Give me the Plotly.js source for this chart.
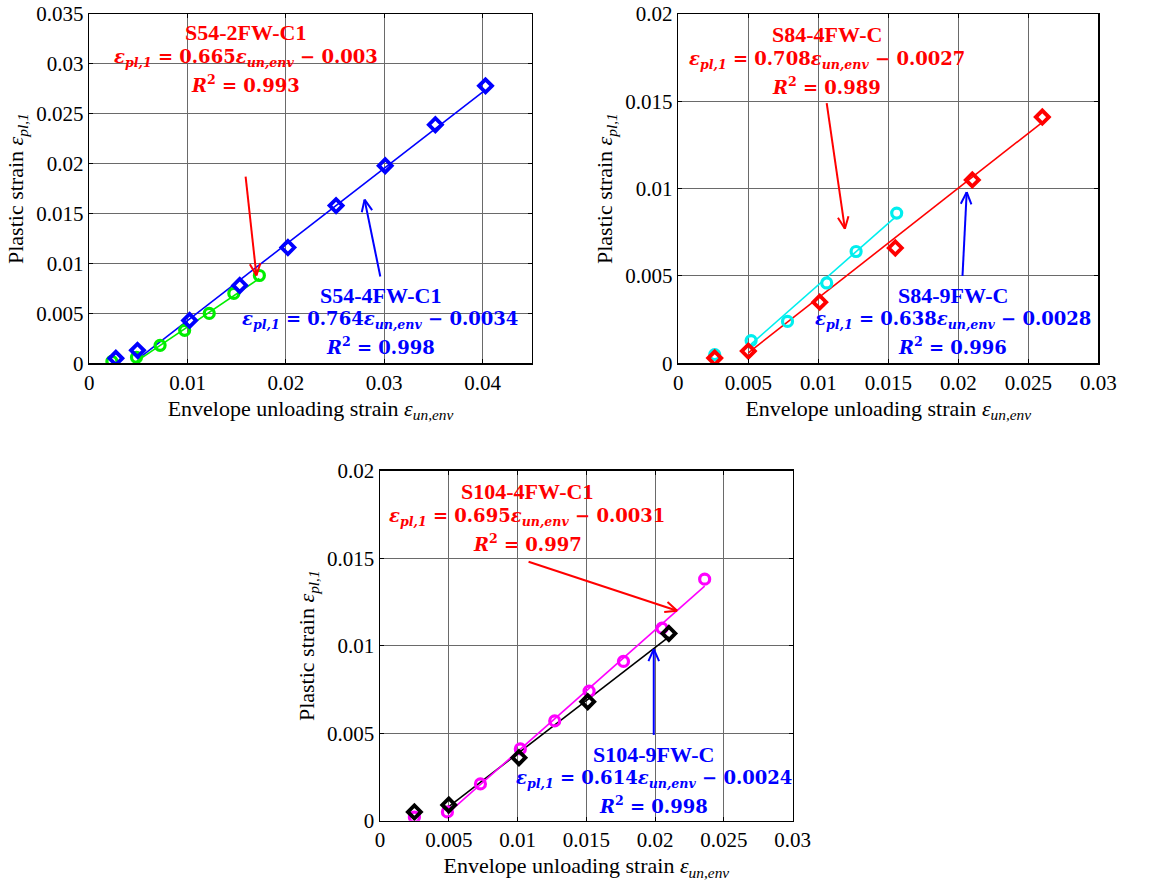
<!DOCTYPE html>
<html>
<head>
<meta charset="utf-8">
<script src="https://cdn.plot.ly/plotly-3.0.1.min.js"></script>
<style>html,body{margin:0;padding:0;background:#fff;}#chart{width:1151px;height:881px;}</style>
</head>
<body>
<div id="chart"></div>
<script>
// ---- Panel 1 (S54) ----
const s54_4_x = [0.0027, 0.0049, 0.0102, 0.0153, 0.0202, 0.0251, 0.0301, 0.0352, 0.0403];
const s54_4_y = [0.0005, 0.0013, 0.0043, 0.0078, 0.0116, 0.0158, 0.0198, 0.0239, 0.0278];
const s54_4_fitX = [0.0049, 0.0403];
const s54_4_fitY = [0.0004, 0.0274];
const s54_2_x = [0.0023, 0.0048, 0.0072, 0.0097, 0.0122, 0.0147, 0.0173];
const s54_2_y = [0.0002, 0.0006, 0.0018, 0.0033, 0.0050, 0.0070, 0.0088];
const s54_2_fitX = [0.0048, 0.0173];
const s54_2_fitY = [0.0002, 0.0085];
// ---- Panel 2 (S84) ----
const s84_4_x = [0.0026, 0.0052, 0.0078, 0.0106, 0.0127, 0.0156];
const s84_4_y = [0.0005, 0.0013, 0.0024, 0.0046, 0.0064, 0.0086];
const s84_4_fitX = [0.0052, 0.0154];
const s84_4_fitY = [0.0011, 0.0083];
const s84_9_x = [0.0026, 0.0050, 0.0101, 0.0155, 0.0210, 0.0260];
const s84_9_y = [0.0003, 0.0007, 0.0035, 0.0066, 0.0105, 0.0141];
const s84_9_fitX = [0.0050, 0.0260];
const s84_9_fitY = [0.0006, 0.0138];
// ---- Panel 3 (S104) ----
const s104_4_x = [0.0025, 0.0049, 0.0073, 0.0102, 0.0127, 0.0152, 0.0177, 0.0205, 0.0236];
const s104_4_y = [0.0002, 0.0005, 0.0021, 0.0041, 0.0057, 0.0074, 0.0091, 0.0110, 0.0138];
const s104_4_fitX = [0.0049, 0.0236];
const s104_4_fitY = [0.0004, 0.0134];
const s104_9_x = [0.0025, 0.0050, 0.0101, 0.0151, 0.0210];
const s104_9_y = [0.0005, 0.0009, 0.0036, 0.0068, 0.0107];
const s104_9_fitX = [0.0050, 0.0210];
const s104_9_fitY = [0.0008, 0.0105];

const tickX1 = [0, 0.01, 0.02, 0.03, 0.04];
const tickX1Text = ['0', '0.01', '0.02', '0.03', '0.04'];
const tickY1 = [0, 0.005, 0.01, 0.015, 0.02, 0.025, 0.03, 0.035];
const tickY1Text = ['0', '0.005', '0.01', '0.015', '0.02', '0.025', '0.03', '0.035'];
const tickX2 = [0, 0.005, 0.01, 0.015, 0.02, 0.025, 0.03];
const tickX2Text = ['0', '0.005', '0.01', '0.015', '0.02', '0.025', '0.03'];
const tickY2 = [0, 0.005, 0.01, 0.015, 0.02];
const tickY2Text = ['0', '0.005', '0.01', '0.015', '0.02'];

const W = 1151, H = 881;
const FONT = 'Liberation Serif, Times New Roman, serif';
const MATH = 'DejaVu Serif, serif';

// panel pixel boxes [left, right, top, bottom]
const boxes = {
  '': [89.3, 531.7, 14, 363.3],
  '2': [678.3, 1098.3, 14, 363.3],
  '3': [380, 792.7, 470.7, 820.7]
};
const ranges = {
  '': {x: [0, 0.045], y: [0, 0.035]},
  '2': {x: [0, 0.03], y: [0, 0.02]},
  '3': {x: [0, 0.03], y: [0, 0.02]}
};

function markers(x, y, color, sym, ax) {
  const circ = sym === 'circle-open';
  return {x: x, y: y, type: 'scatter', mode: 'markers', xaxis: 'x' + ax, yaxis: 'y' + ax,
    marker: {symbol: sym, size: circ ? 10 : 10, color: color, line: {color: color, width: circ ? 3.2 : 3.8}},
    showlegend: false, hoverinfo: 'x+y'};
}
function fit(x, y, color, ax) {
  return {x: x, y: y, type: 'scatter', mode: 'lines', xaxis: 'x' + ax, yaxis: 'y' + ax,
    line: {color: color, width: 1.6}, showlegend: false, hoverinfo: 'skip'};
}

const data = [
  fit(s54_4_fitX, s54_4_fitY, '#0000ff', ''),
  fit(s54_2_fitX, s54_2_fitY, '#00ee00', ''),
  markers(s54_2_x, s54_2_y, '#00ee00', 'circle-open', ''),
  markers(s54_4_x, s54_4_y, '#0000ff', 'diamond-open', ''),
  fit(s84_4_fitX, s84_4_fitY, '#00eeee', '2'),
  fit(s84_9_fitX, s84_9_fitY, '#ff0000', '2'),
  markers(s84_4_x, s84_4_y, '#00eeee', 'circle-open', '2'),
  markers(s84_9_x, s84_9_y, '#ff0000', 'diamond-open', '2'),
  fit(s104_9_fitX, s104_9_fitY, '#000000', '3'),
  fit(s104_4_fitX, s104_4_fitY, '#ff00ff', '3'),
  markers(s104_4_x, s104_4_y, '#ff00ff', 'circle-open', '3'),
  markers(s104_9_x, s104_9_y, '#000000', 'diamond-open', '3')
];

function axis(ax, isX, tv, tt) {
  const b = boxes[ax];
  const r = ranges[ax];
  const dom = isX ? [b[0] / W, b[1] / W] : [1 - b[3] / H, 1 - b[2] / H];
  const o = {
    domain: dom, range: isX ? r.x : r.y, tickvals: tv, ticktext: tt, tickmode: 'array',
    showgrid: true, gridcolor: '#6a6a6a', gridwidth: 1, zeroline: false,
    showline: true, linecolor: '#000', linewidth: 1.5, mirror: 'ticks',
    ticks: 'inside', ticklen: 4, tickcolor: '#000',
    tickfont: {family: FONT, size: 21, color: '#000'},
    anchor: (isX ? 'y' : 'x') + ax, automargin: false
  };
  if (isX) {
    o.title = {text: 'Envelope unloading strain <i>ε</i><sub><i>un,env</i></sub>', font: {family: FONT, size: 22, color: '#000'}, standoff: 6};
  } else {
    o.title = {text: 'Plastic strain <i>ε</i><sub><i>pl,1</i></sub>', font: {family: FONT, size: 22, color: '#000'}, standoff: 6};
  }
  return o;
}

function toPaper(ax, x, y) {
  const b = boxes[ax], r = ranges[ax];
  const px = b[0] + (x - r.x[0]) / (r.x[1] - r.x[0]) * (b[1] - b[0]);
  const py = b[3] - (y - r.y[0]) / (r.y[1] - r.y[0]) * (b[3] - b[2]);
  return [px, py];
}

const shapes = [];
function arrow(ax, tail, head, color) {
  const t = toPaper(ax, tail[0], tail[1]);
  const h = toPaper(ax, head[0], head[1]);
  const P = p => [p[0] / W, 1 - p[1] / H];
  const line = (a, c) => {
    const A = P(a), C = P(c);
    shapes.push({type: 'line', xref: 'paper', yref: 'paper', x0: A[0], y0: A[1], x1: C[0], y1: C[1],
      line: {color: color, width: 2}});
  };
  line(t, h);
  const ang = Math.atan2(t[1] - h[1], t[0] - h[0]);
  const L = 13, spread = 0.42;
  [ang + spread, ang - spread].forEach(a => line(h, [h[0] + L * Math.cos(a), h[1] + L * Math.sin(a)]));
}

// arrows: tail and head in data coordinates of each panel
arrow('', [0.0159, 0.0187], [0.0170, 0.0088], '#ff0000');
arrow('', [0.0296, 0.0087], [0.0280, 0.0164], '#0000ff');
arrow('2', [0.0106, 0.0149], [0.0119, 0.0077], '#ff0000');
arrow('2', [0.0203, 0.0050], [0.0206, 0.0098], '#0000ff');
arrow('3', [0.0108, 0.0148], [0.0216, 0.0120], '#ff0000');
arrow('3', [0.0199, 0.0049], [0.0199, 0.0098], '#0000ff');

function eq(a, b) {
  return '<b><i>ε</i><sub><i>pl,1</i></sub> = ' + a + '<i>ε</i><sub><i>un,env</i></sub> − ' + b + '</b>';
}
function r2(v) { return '<b><i>R</i><sup>2</sup> = ' + v + '</b>'; }

const annotations = [];
function label(ax, cx, cy, lines, color) {
  // cx, cy: data coordinates of the centre of the first line; lines spaced in pixels
  const p = toPaper(ax, cx, cy);
  const offs = [0, 25, 51];
  lines.forEach((t, i) => {
    annotations.push({xref: 'paper', yref: 'paper', x: p[0] / W, y: 1 - (p[1] + offs[i]) / H,
      text: t, showarrow: false, xanchor: 'center', yanchor: 'middle',
      font: {family: i === 0 ? FONT : MATH, size: i === 0 ? 22 : 18, color: color}});
  });
}
label('', 0.0159, 0.0331, ['<b>S54-2FW-C1</b>', eq('0.665', '0.003'), r2('0.993')], '#ff0000');
label('', 0.0296, 0.0068, ['<b>S54-4FW-C1</b>', eq('0.764', '0.0034'), r2('0.998')], '#0000ff');
label('2', 0.0106, 0.0188, ['<b>S84-4FW-C</b>', eq('0.708', '0.0027'), r2('0.989')], '#ff0000');
label('2', 0.0196, 0.0039, ['<b>S84-9FW-C</b>', eq('0.638', '0.0028'), r2('0.996')], '#0000ff');
label('3', 0.0107, 0.0188, ['<b>S104-4FW-C1</b>', eq('0.695', '0.0031'), r2('0.997')], '#ff0000');
label('3', 0.0199, 0.0038, ['<b>S104-9FW-C</b>', eq('0.614', '0.0024'), r2('0.998')], '#0000ff');

const layout = {
  width: W, height: H, margin: {l: 0, r: 0, t: 0, b: 0},
  paper_bgcolor: '#fff', plot_bgcolor: '#fff', showlegend: false,
  xaxis: axis('', true, tickX1, tickX1Text), yaxis: axis('', false, tickY1, tickY1Text),
  xaxis2: axis('2', true, tickX2, tickX2Text), yaxis2: axis('2', false, tickY2, tickY2Text),
  xaxis3: axis('3', true, tickX2, tickX2Text), yaxis3: axis('3', false, tickY2, tickY2Text),
  shapes: shapes, annotations: annotations
};
Plotly.newPlot('chart', data, layout, {displayModeBar: false, staticPlot: true});
</script>
</body>
</html>
